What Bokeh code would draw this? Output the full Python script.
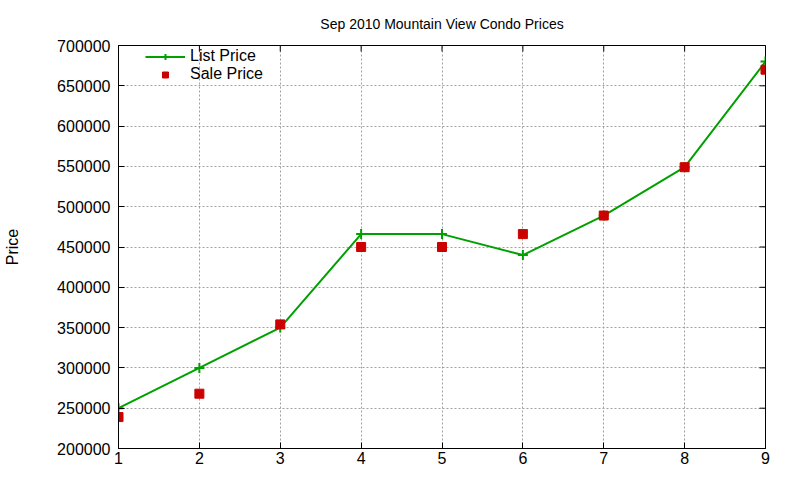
import math
from bokeh.plotting import figure
from bokeh.models import (Range1d, FixedTicker, BasicTickFormatter, Legend, LegendItem)
from bokeh.embed import file_html
from bokeh.resources import INLINE

# data
months = [1, 2, 3, 4, 5, 6, 7, 8, 9]
list_price = [250000, 300000, 350000, 466000, 466000, 440000, 489000, 549000, 680000]
sale_price = [239000, 268000, 354000, 450000, 450000, 466000, 489000, 549000, 670000]
y_ticks = [200000, 250000, 300000, 350000, 400000, 450000, 500000, 550000, 600000, 650000, 700000]
x_ticks = [1, 2, 3, 4, 5, 6, 7, 8, 9]

FONT = "Liberation Sans"
GREEN = "#00a000"
RED = "#cc0000"

p = figure(frame_width=647, frame_height=403, output_backend="svg", toolbar_location=None,
           x_range=Range1d(x_ticks[0], x_ticks[-1]), y_range=Range1d(y_ticks[0], y_ticks[-1]),
           min_border_left=118, min_border_right=26, min_border_top=45,
           min_border_bottom=24)

p.title.text = "Sep 2010 Mountain View Condo Prices"
p.title.align = "center"
p.title.text_font = FONT
p.title.text_font_size = "14px"
p.title.text_font_style = "normal"
p.title.text_color = "black"
p.title.standoff = 27

p.outline_line_color = "black"
p.outline_line_width = 1
p.background_fill_color = "white"
p.border_fill_color = "white"

for ax in [p.xaxis[0], p.yaxis[0]]:
    ax.major_tick_in = 6
    ax.major_tick_out = 0
    ax.minor_tick_in = 0
    ax.minor_tick_out = 0
    ax.axis_line_color = "black"
    ax.major_tick_line_color = "black"
    ax.major_label_text_font = FONT
    ax.major_label_text_font_size = "16px"
    ax.major_label_text_color = "black"

p.xaxis[0].ticker = FixedTicker(ticks=x_ticks)
p.yaxis[0].ticker = FixedTicker(ticks=y_ticks)
p.yaxis[0].formatter = BasicTickFormatter(use_scientific=False)
p.xaxis[0].major_label_standoff = 3
p.xaxis[0].axis_label_standoff = 0
p.yaxis[0].major_label_standoff = 8
p.yaxis[0].axis_label = "Price"
p.yaxis[0].axis_label_text_font = FONT
p.yaxis[0].axis_label_text_font_size = "16px"
p.yaxis[0].axis_label_text_font_style = "normal"
p.yaxis[0].axis_label_text_color = "black"
p.yaxis[0].axis_label_standoff = 33

p.xgrid.ticker = FixedTicker(ticks=x_ticks)
p.ygrid.ticker = FixedTicker(ticks=y_ticks)
for g in [p.xgrid[0], p.ygrid[0]]:
    g.grid_line_color = "#a0a0a0"
    g.grid_line_dash = "2 2"
    g.grid_line_width = 1

# mirrored inward ticks on the top and right edges (clipped to the frame)
p.scatter(x_ticks, [y_ticks[-1]] * len(x_ticks), marker="dash", angle=math.pi / 2,
          size=12, line_color="black", line_width=1)
p.scatter([x_ticks[-1]] * len(y_ticks), y_ticks, marker="dash", angle=0,
          size=12, line_color="black", line_width=1)

ln = p.line(months, list_price, line_color=GREEN, line_width=2)
pl = p.scatter(months, list_price, marker="cross", size=10, line_color=GREEN, line_width=2)
sq = p.scatter(months, sale_price, marker="square", size=9, fill_color=RED, line_color=RED)

legend = Legend(items=[LegendItem(label="List Price", renderers=[ln, pl]),
                       LegendItem(label="Sale Price", renderers=[sq])],
                location=(27, 365), border_line_color=None, background_fill_alpha=0,
                label_text_font=FONT, label_text_font_size="16px", label_text_color="black",
                glyph_width=40, glyph_height=15, label_height=15,
                spacing=-8, padding=0, margin=0, label_standoff=5)
p.add_layout(legend)

open("out.html", "w").write(file_html(p, INLINE))
